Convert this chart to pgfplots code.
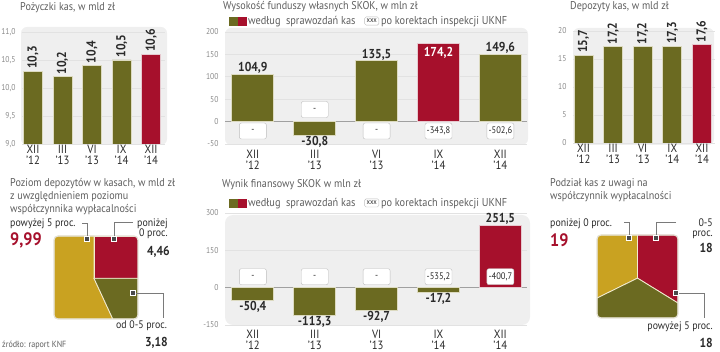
\documentclass[border=0pt]{standalone}
\usepackage{pgfplots}
\pgfplotsset{compat=1.18}
\usepackage{fontspec}
\setmainfont[FakeStretch=0.9]{PT Sans}
\definecolor{olivec}{HTML}{6B6A21}
\definecolor{redc}{HTML}{A6102C}
\definecolor{mustc}{HTML}{C9A221}
\definecolor{bgc}{HTML}{EFEFEF}
\definecolor{gridc}{HTML}{E2E2E2}
\definecolor{titc}{HTML}{5E5E5E}
\definecolor{tickc}{HTML}{8A8A8A}
\definecolor{txtc}{HTML}{2A2A2A}
\definecolor{olivee}{HTML}{DCDAC0}
\definecolor{rede}{HTML}{E6C9CF}
\definecolor{boxc}{HTML}{BDBDBD}
\definecolor{conc}{HTML}{7A7A7A}
\definecolor{markc}{HTML}{4A4A4A}
\definecolor{piee}{HTML}{F2EBD0}
\definecolor{zeroc}{HTML}{A0A0A0}

\tikzset{
  tit/.style={anchor=base west, font=\fontsize{11.3}{13}\selectfont, text=titc, inner sep=0pt},
  lab/.style={font=\fontsize{11}{13}\selectfont, text=txtc, inner sep=0pt},
  bnum/.style={font=\bfseries\fontsize{13}{13}\selectfont, text=txtc, inner sep=0pt},
  bignum/.style={anchor=base west, font=\bfseries\fontsize{18}{18}\selectfont, text=redc, inner sep=0pt},
  mk/.style={fill=markc, draw=white, line width=0.6bp, minimum size=4.5bp, inner sep=0pt},
  con/.style={conc, line width=0.6bp},
  corrbox/.style={draw=boxc, fill=white, rounded corners=2bp, minimum width=27bp,
    minimum height=16bp, inner sep=1.5bp, font=\fontsize{9.5}{9.5}\selectfont, text=txtc},
}
\pgfplotsset{
  /pgf/number format/assume math mode=true,
  panel/.style={
    scale only axis,
    axis line style={draw=none},
    tick style={draw=none},
    major tick length=0pt,
    ymajorgrids, grid style={gridc, line width=0.6bp},
    ybar, bar shift=0pt,
    xtick={0,1,2,3,4},
    xticklabels={{XII\\’12},{III\\’13},{VI\\’13},{IX\\’14},{XII\\’14}},
    xticklabel style={align=center, font=\fontsize{12}{11.2}\selectfont, text=txtc, inner sep=1bp},
    yticklabel style={font=\fontsize{8.5}{10}\selectfont, text=tickc, xshift=-3bp},
  },
  rlab/.style={nodes near coords,
    nodes near coords style={rotate=90, anchor=west, inner sep=2bp, text=txtc,
      font=\bfseries\fontsize{13}{13}\selectfont,
      /pgf/number format/.cd, use comma, fixed, fixed zerofill, precision=1}},
  vlab/.style={nodes near coords,
    nodes near coords style={inner sep=0.5bp, text=txtc,
      font=\bfseries\fontsize{13}{13}\selectfont,
      /pgf/number format/.cd, use comma, fixed, fixed zerofill, precision=1}},
  twoleg/.style={
    legend style={at={(axis description cs:0.012,#1)}, anchor=west, draw=none, fill=none,
      legend columns=2, font=\fontsize{11.5}{11.5}\selectfont, text=titc, inner sep=0pt,
      /tikz/every even column/.append style={column sep=7bp}},
  },
  legsq/.style={legend image code/.code={\fill[olivec] (0bp,-4bp) rectangle (8bp,4bp); \fill[redc] (9bp,-4bp) rectangle (17bp,4bp);}},
  legbox/.style={legend image code/.code={\node[draw=boxc, fill=white, rounded corners=1.5bp, inner xsep=2bp, inner ysep=1.5bp, font=\fontsize{7.5}{7.5}\selectfont, text=txtc] at (9bp,0bp) {xxx};}},
}

\begin{document}
\begin{tikzpicture}
\useasboundingbox (0bp,0bp) rectangle (720bp,352bp);

% ---------- backgrounds
\fill[bgc, rounded corners=6bp] (21bp,207bp) rectangle (167bp,325bp);
\fill[bgc, rounded corners=6bp] (225bp,207bp) rectangle (528bp,324bp);
\fill[bgc, rounded corners=6bp] (573bp,207bp) rectangle (714bp,324bp);
\fill[bgc, rounded corners=8bp] (225bp,27bp) rectangle (530bp,137bp);

% ---------- titles
\node[tit] at (20bp,341bp) {Pożyczki kas, w mld zł};
\node[tit] at (223bp,342bp) {Wysokość funduszy własnych SKOK, w mln zł};
\node[tit] at (570bp,342bp) {Depozyty kas, w mld zł};
\node[tit] at (222bp,164bp) {Wynik finansowy SKOK w mln zł};
\node[tit] at (10bp,165bp) {Poziom depozytów w kasach, w mld zł};
\node[tit] at (10bp,152bp) {z uwzględnieniem poziomu};
\node[tit] at (10bp,139bp) {współczynnika wypłacalności};
\node[tit] at (550bp,165bp) {Podział kas z uwagi na};
\node[tit] at (550bp,152bp) {współczynnik wypłacalności};

% ---------- panel 1: Pozyczki kas
\begin{axis}[panel, at={(22bp,208bp)}, anchor=south west, width=143bp, height=112bp,
  xmin=-0.373, xmax=4.47, ymin=9, ymax=11, ytick={9,9.5,10,10.5,11}, bar width=0.64,
  yticklabel style={/pgf/number format/.cd, use comma, fixed, fixed zerofill, precision=1}]
\addplot[fill=olivec, draw=olivee, line width=0.8bp, rlab] coordinates {(0,10.3) (1,10.2) (2,10.4) (3,10.5)};
\addplot[fill=redc, draw=rede, line width=0.8bp, rlab] coordinates {(4,10.6)};
\end{axis}

% ---------- panel 3: Depozyty kas
\begin{axis}[panel, at={(573bp,209bp)}, anchor=south west, width=142bp, height=112bp,
  xmin=-0.355, xmax=4.44, ymin=0, ymax=20, ytick={0,5,10,15,20}, bar width=0.64]
\addplot[fill=olivec, draw=olivee, line width=0.8bp, rlab] coordinates {(0,15.7) (1,17.2) (2,17.2) (3,17.3)};
\addplot[fill=redc, draw=rede, line width=0.8bp, rlab] coordinates {(4,17.6)};
\end{axis}

% ---------- panel 2: Fundusze wlasne
\begin{axis}[panel, at={(225bp,208bp)}, anchor=south west, width=302bp, height=112bp,
  xmin=-0.45, xmax=4.43, ymin=-50, ymax=200, ytick={-50,0,50,100,150,200}, bar width=0.68,
  xticklabel style={yshift=-4.5bp}, twoleg=1.098]
\addlegendimage{legsq}
\addlegendentry{według\ \ sprawozdań kas}
\addlegendimage{legbox}
\addlegendentry{po korektach inspekcji UKNF}
\draw[zeroc, line width=0.6bp] (axis cs:-0.45,0) -- (axis cs:4.43,0);
\addplot[fill=olivec, draw=olivee, line width=0.8bp, vlab] coordinates {(0,104.9) (1,-30.8) (2,135.5) (4,149.6)};
\addplot[fill=redc, draw=rede, line width=0.8bp] coordinates {(3,174.2)};
\node[bnum, anchor=north, text=white, yshift=-3bp] at (axis cs:3,174.2) {174,2};
\node[corrbox] at (axis cs:0,-21) {-};
\node[corrbox] at (axis cs:1,27) {-};
\node[corrbox] at (axis cs:2,-21) {-};
\node[corrbox] at (axis cs:3,-21) {-343,8};
\node[corrbox] at (axis cs:4,-21) {-502,6};
\end{axis}

% ---------- panel 5: Wynik finansowy
\begin{axis}[panel, at={(225bp,27bp)}, anchor=south west, width=302bp, height=112bp,
  xmin=-0.45, xmax=4.43, ymin=-150, ymax=300, ytick={-150,0,150,300}, bar width=0.68,
  xticklabel style={yshift=-4bp, font=\fontsize{12}{10.6}\selectfont}, twoleg=1.09]
\addlegendimage{legsq}
\addlegendentry{według\ \ sprawozdań kas}
\addlegendimage{legbox}
\addlegendentry{po korektach inspekcji UKNF}
\draw[zeroc, line width=0.6bp] (axis cs:-0.45,0) -- (axis cs:4.43,0);
\addplot[fill=olivec, draw=olivee, line width=0.8bp, vlab] coordinates {(0,-50.4) (1,-113.3) (2,-92.7) (3,-17.2)};
\addplot[fill=redc, draw=rede, line width=0.8bp, vlab] coordinates {(4,251.5)};
\node[corrbox] at (axis cs:0,44) {-};
\node[corrbox] at (axis cs:1,44) {-};
\node[corrbox] at (axis cs:2,44) {-};
\node[corrbox] at (axis cs:3,44) {-535,2};
\node[corrbox] at (axis cs:4,44) {-400,7};
\end{axis}

% ---------- panel 4: Poziom depozytow (square pie)
\begin{scope}
\clip[rounded corners=4bp] (54bp,33bp) rectangle (138bp,116bp);
\begin{axis}[at={(54bp,33bp)}, anchor=south west, scale only axis, width=84bp, height=83bp,
  xmin=0, xmax=1, ymin=0, ymax=1, hide axis]
\addplot[fill=mustc, draw=piee, line width=0.8bp] coordinates {(0,0) (0,1) (0.476,1) (0.476,0.49) (0.70,0)} -- cycle;
\addplot[fill=redc, draw=piee, line width=0.8bp] coordinates {(0.476,1) (1,1) (1,0.49) (0.476,0.49)} -- cycle;
\addplot[fill=olivec, draw=piee, line width=0.8bp] coordinates {(0.476,0.49) (1,0.49) (1,0) (0.70,0)} -- cycle;
\end{axis}
\end{scope}
\draw[piee!70!gray!60, line width=1.2bp, rounded corners=4bp] (54bp,33bp) rectangle (138bp,116bp);

\node[lab, anchor=base west] at (10bp,125bp) {powyżej 5 proc.};
\node[bignum] at (10bp,106bp) {9,99};
\node[lab, anchor=base west] at (137bp,125bp) {poniżej};
\node[lab, anchor=base west] at (139bp,115bp) {0 proc.};
\node[bnum, anchor=base east] at (170bp,96bp) {4,46};
\node[lab, anchor=base west] at (116bp,24bp) {od 0-5 proc.};
\node[bnum, anchor=base east] at (168bp,6bp) {3,18};
\node[anchor=base west, font=\fontsize{9}{10}\selectfont, text=titc, inner sep=0pt] at (2bp,5bp) {źródło: raport KNF};
\draw[con] (82bp,129bp) -- (87bp,129bp) -- (87bp,113bp);
\draw[con] (133bp,130bp) -- (114bp,130bp) -- (114bp,113bp);
\draw[con] (133bp,59bp) -- (163bp,59bp) -- (163bp,34bp);
\node[mk] at (87bp,113bp) {};
\node[mk] at (114bp,113bp) {};
\node[mk] at (133bp,59bp) {};

% ---------- panel 6: Podzial kas (square pie)
\begin{scope}
\clip[rounded corners=4bp] (597bp,34bp) rectangle (678bp,117bp);
\begin{axis}[at={(597bp,34bp)}, anchor=south west, scale only axis, width=81bp, height=83bp,
  xmin=0, xmax=1, ymin=0, ymax=1, hide axis]
\addplot[fill=mustc, draw=piee, line width=0.8bp] coordinates {(0,0.24) (0,1) (0.5,1) (0.5,0.48)} -- cycle;
\addplot[fill=redc, draw=piee, line width=0.8bp] coordinates {(0.5,1) (1,1) (1,0.18) (0.5,0.48)} -- cycle;
\addplot[fill=olivec, draw=piee, line width=0.8bp] coordinates {(0,0) (0,0.24) (0.5,0.48) (1,0.18) (1,0)} -- cycle;
\end{axis}
\end{scope}
\draw[piee!70!gray!60, line width=1.2bp, rounded corners=4bp] (597bp,34bp) rectangle (678bp,117bp);

\node[lab, anchor=base west] at (550bp,125bp) {poniżej 0 proc.};
\node[bignum] at (550bp,105bp) {19};
\node[lab, anchor=base east] at (713bp,125bp) {0-5};
\node[lab, anchor=base east] at (713bp,115bp) {proc.};
\node[bnum, anchor=base east] at (713bp,99bp) {18};
\node[lab, anchor=base east] at (713bp,23bp) {powyżej 5 proc.};
\node[bnum, anchor=base east] at (713bp,5bp) {18};
\draw[con] (624bp,130bp) -- (629bp,130bp) -- (629bp,114bp);
\draw[con] (676bp,130bp) -- (656bp,130bp) -- (656bp,114bp);
\draw[con] (676bp,59bp) -- (704bp,59bp) -- (704bp,34bp);
\node[mk] at (629bp,114bp) {};
\node[mk] at (656bp,114bp) {};
\node[mk] at (676bp,59bp) {};
\end{tikzpicture}
\end{document}
